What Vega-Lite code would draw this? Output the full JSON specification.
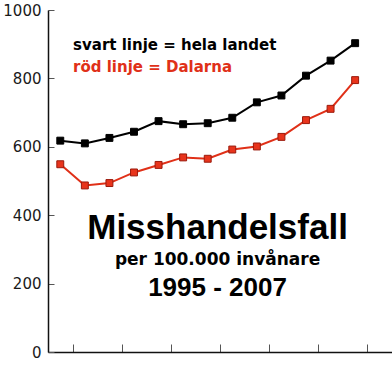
{
  "$schema": "https://vega.github.io/schema/vega-lite/v6.json",
  "width": 344,
  "height": 342,
  "autosize": {"type": "none"},
  "padding": {"left": 48, "top": 10, "right": 0, "bottom": 19},
  "background": "white",
  "config": {"view": {"stroke": null}},
  "datasets": {
    "series": [
      {"year": 1995, "region": "hela landet", "value": 618},
      {"year": 1996, "region": "hela landet", "value": 610},
      {"year": 1997, "region": "hela landet", "value": 626},
      {"year": 1998, "region": "hela landet", "value": 644},
      {"year": 1999, "region": "hela landet", "value": 675},
      {"year": 2000, "region": "hela landet", "value": 666},
      {"year": 2001, "region": "hela landet", "value": 669},
      {"year": 2002, "region": "hela landet", "value": 685},
      {"year": 2003, "region": "hela landet", "value": 730},
      {"year": 2004, "region": "hela landet", "value": 750},
      {"year": 2005, "region": "hela landet", "value": 808},
      {"year": 2006, "region": "hela landet", "value": 852},
      {"year": 2007, "region": "hela landet", "value": 903},
      {"year": 1995, "region": "Dalarna", "value": 549},
      {"year": 1996, "region": "Dalarna", "value": 487},
      {"year": 1997, "region": "Dalarna", "value": 494},
      {"year": 1998, "region": "Dalarna", "value": 525},
      {"year": 1999, "region": "Dalarna", "value": 547},
      {"year": 2000, "region": "Dalarna", "value": 569},
      {"year": 2001, "region": "Dalarna", "value": 565},
      {"year": 2002, "region": "Dalarna", "value": 592},
      {"year": 2003, "region": "Dalarna", "value": 601},
      {"year": 2004, "region": "Dalarna", "value": 629},
      {"year": 2005, "region": "Dalarna", "value": 678},
      {"year": 2006, "region": "Dalarna", "value": 711},
      {"year": 2007, "region": "Dalarna", "value": 795}
    ],
    "legendText": [
      {"year": 1995.52, "value": 882, "label": "svart linje = hela landet", "region": "hela landet"},
      {"year": 1995.52, "value": 819, "label": "röd linje = Dalarna", "region": "Dalarna"}
    ]
  },
  "layer": [
    {
      "data": {"name": "series"},
      "mark": {"type": "line", "strokeWidth": 2},
      "encoding": {
        "x": {
          "field": "year", "type": "quantitative",
          "scale": {"domain": [1994.5, 2008.5], "nice": false, "zero": false},
          "axis": {
            "title": null, "labels": false, "grid": false,
            "values": [1995.5, 1996.5, 1997.5, 1998.5, 1999.5, 2000.5, 2001.5, 2002.5, 2003.5, 2004.5, 2005.5, 2006.5, 2007.5, 2008.5],
            "tickSize": -8, "tickColor": "#555", "tickWidth": 1,
            "domainColor": "#111", "domainWidth": 1.5
          }
        },
        "y": {
          "field": "value", "type": "quantitative",
          "scale": {"domain": [0, 1000], "nice": false},
          "axis": {
            "title": null, "grid": false, "format": "d",
            "values": [0, 200, 400, 600, 800, 1000],
            "tickSize": -6, "tickColor": "#555", "tickWidth": 1,
            "domainColor": "#111", "domainWidth": 1.5,
            "labelFont": "DejaVu Sans", "labelFontSize": 15, "labelColor": "#1a1a1a",
            "labelPadding": 13
          }
        },
        "color": {
          "field": "region", "type": "nominal",
          "scale": {"domain": ["hela landet", "Dalarna"], "range": ["#000000", "#e03018"]},
          "legend": null
        },
        "detail": {"field": "region"}
      }
    },
    {
      "data": {"name": "series"},
      "mark": {"type": "point", "shape": "square", "filled": true, "size": 48, "strokeWidth": 1, "opacity": 1},
      "encoding": {
        "x": {"field": "year", "type": "quantitative"},
        "y": {"field": "value", "type": "quantitative"},
        "fill": {
          "field": "region", "type": "nominal",
          "scale": {"domain": ["hela landet", "Dalarna"], "range": ["#000000", "#e8341c"]},
          "legend": null
        },
        "stroke": {
          "field": "region", "type": "nominal",
          "scale": {"domain": ["hela landet", "Dalarna"], "range": ["#000000", "#9a1a0c"]},
          "legend": null
        }
      }
    },
    {
      "data": {"name": "legendText"},
      "mark": {"type": "text", "align": "left", "baseline": "alphabetic", "font": "DejaVu Sans", "fontWeight": "bold", "fontSize": 15},
      "encoding": {
        "x": {"field": "year", "type": "quantitative"},
        "y": {"field": "value", "type": "quantitative"},
        "text": {"field": "label"},
        "color": {
          "field": "region", "type": "nominal",
          "scale": {"domain": ["hela landet", "Dalarna"], "range": ["#000000", "#ee2211"]},
          "legend": null
        }
      }
    },
    {
      "data": {"values": [{"year": 2001.4, "value": 330, "label": "Misshandelsfall"}]},
      "mark": {"type": "text", "align": "center", "baseline": "alphabetic", "font": "Liberation Sans", "fontWeight": "bold", "fontSize": 35, "color": "#000"},
      "encoding": {
        "x": {"field": "year", "type": "quantitative"},
        "y": {"field": "value", "type": "quantitative"},
        "text": {"field": "label"}
      }
    },
    {
      "data": {"values": [{"year": 2001.4, "value": 253, "label": "per 100.000 invånare"}]},
      "mark": {"type": "text", "align": "center", "baseline": "alphabetic", "font": "DejaVu Sans", "fontWeight": "bold", "fontSize": 17, "color": "#000"},
      "encoding": {
        "x": {"field": "year", "type": "quantitative"},
        "y": {"field": "value", "type": "quantitative"},
        "text": {"field": "label"}
      }
    },
    {
      "data": {"values": [{"year": 2001.4, "value": 165, "label": "1995 - 2007"}]},
      "mark": {"type": "text", "align": "center", "baseline": "alphabetic", "font": "Liberation Sans", "fontWeight": "bold", "fontSize": 26, "color": "#000"},
      "encoding": {
        "x": {"field": "year", "type": "quantitative"},
        "y": {"field": "value", "type": "quantitative"},
        "text": {"field": "label"}
      }
    }
  ]
}
